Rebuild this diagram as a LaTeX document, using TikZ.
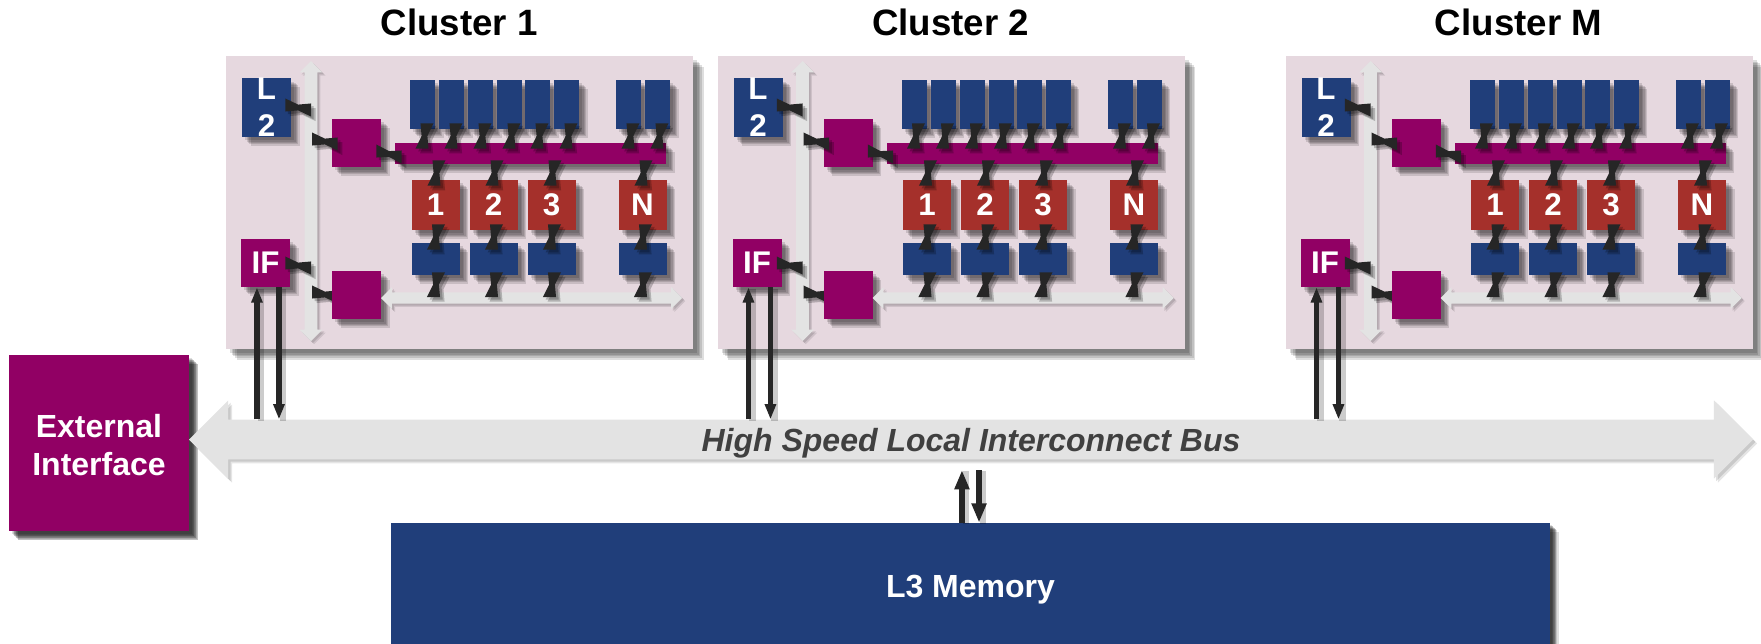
\documentclass[tikz,border=0pt]{standalone}
\usepackage{fontspec}
\setmainfont{Liberation Sans}
\usetikzlibrary{arrows.meta,shapes.arrows,shadows,backgrounds,calc}

\definecolor{panelpink}{RGB}{230,216,223}
\definecolor{plum}{RGB}{145,0,100}
\definecolor{navy}{RGB}{32,62,122}
\definecolor{brick}{RGB}{165,48,43}
\definecolor{busgrey}{RGB}{227,227,227}
\definecolor{linkdark}{RGB}{38,38,38}
\definecolor{bustext}{RGB}{64,64,64}

\tikzset{
  softshade/.style={
    general shadow={shadow xshift=#1,shadow yshift=-#1,fill=black,opacity=.13},
    general shadow={shadow xshift=.85*#1,shadow yshift=-.85*#1,fill=black,opacity=.13},
    general shadow={shadow xshift=.7*#1,shadow yshift=-.7*#1,fill=black,opacity=.13},
    general shadow={shadow xshift=.55*#1,shadow yshift=-.55*#1,fill=black,opacity=.13},
    general shadow={shadow xshift=.4*#1,shadow yshift=-.4*#1,fill=black,opacity=.13}},
  busshade/.style={
    general shadow={shadow xshift=#1,shadow yshift=-#1,fill=black,opacity=.1},
    general shadow={shadow xshift=.6*#1,shadow yshift=-.6*#1,fill=black,opacity=.12}},
  block/.style={rectangle,inner sep=0pt,text=white,align=center,softshade=6.5pt,
    font=\bfseries\fontsize{23.5}{28}\selectfont},
  bigtext/.style={font=\bfseries\fontsize{24}{28.5}\selectfont},
  l2box/.style={block,fill=navy,minimum width=36.75pt,minimum height=36.75pt},
  ifbox/.style={block,fill=plum,minimum width=36.75pt,minimum height=36pt},
  router/.style={block,fill=plum,minimum width=36.75pt,minimum height=36pt},
  membar/.style={block,fill=plum,minimum width=203.25pt,minimum height=15.75pt},
  memtall/.style={block,fill=navy,minimum width=18.75pt,minimum height=36.75pt},
  memlow/.style={block,fill=navy,minimum width=36pt,minimum height=24pt},
  core/.style={block,fill=brick,minimum width=36pt,minimum height=37.5pt},
  panel/.style={rectangle,inner sep=0pt,fill=panelpink,softshade=8pt,minimum width=350.25pt,minimum height=219.75pt},
  thinbus/.style={double arrow,inner sep=0pt,fill=busgrey,busshade=2.4pt,double arrow head extend=3.9pt,
    double arrow tip angle=90},
  bigbus/.style={double arrow,inner sep=0pt,fill=busgrey,busshade=3pt,double arrow head extend=14.6pt,
    double arrow tip angle=90,minimum height=1173pt,text height=23.6pt,text depth=5.65pt,text=bustext,
    font=\bfseries\itshape\fontsize{24}{28}\selectfont},
  title/.style={inner sep=0pt,font=\bfseries\fontsize{27.5}{32}\selectfont},
  tie/.style={fill=linkdark},
  tieshade/.style={fill=black,opacity=.22,transform canvas={xshift=#1,yshift=-#1}},
  buslink/.style={line width=4pt,draw=linkdark,-{Triangle[width=8pt,length=11.5pt]}},
  linkshade/.style={line width=5pt,draw=black,opacity=.2,transform canvas={xshift=3pt,yshift=-1pt}},
  memlink/.style={line width=4.5pt,draw=linkdark,-{Triangle[width=10.5pt,length=14.5pt]}},
  tiepath/.style={insert path={
    ([#1=-4.9pt]tiea) -- ([#1=4.9pt]tiea) -- ($(tiea)!.9!(tieb)$) -- cycle
    ([#1=4.9pt]tieb) -- ([#1=-4.9pt]tieb) -- ($(tieb)!.9!(tiea)$) -- cycle}}
}

% one small connector with its shade, #1 is the side its ends spread to
\newcommand{\tielink}[3]{%
  \coordinate (tiea) at #2;
  \coordinate (tieb) at #3;
  \fill[tieshade=2pt,tiepath=#1];
  \fill[tieshade=3.4pt,tiepath=#1];
  \fill[tie,tiepath=#1];}

\begin{document}
\begin{tikzpicture}[x=0.75pt,y=0.75pt,yscale=-1,xscale=1]
\useasboundingbox (0,0) rectangle (1761,643);

%Shape: External box
\node[block,bigtext,fill=plum,minimum width=135pt,minimum height=132pt,softshade=7pt] (ext) at (99,443) {\rule{0pt}{21pt}External\\Interface};
%Shape: Bus
\node[bigbus] (bus) at (971,439.5) {High Speed Local Interconnect Bus};
%Shape: L3 box
\node[block,bigtext,fill=navy,minimum width=869.25pt,minimum height=99.75pt,softshade=4.5pt] (l3) at (970.5,589.5) {L3 Memory};
\coordinate (l3gap) at (970.5,470);
%Straight Lines
\draw[linkshade] ([xshift=-6.4pt]l3.north) -- ([xshift=-6.4pt]l3.north |- l3gap);
\draw[linkshade] ([xshift=6.4pt]l3.north |- l3gap) -- ([xshift=6.4pt]l3.north);
\draw[memlink] ([xshift=-6.4pt]l3.north) -- ([xshift=-6.4pt]l3.north |- l3gap);
\draw[memlink] ([xshift=6.4pt]l3.north |- l3gap) -- ([xshift=6.4pt]l3.north);

\foreach \cx/\cname/\cid in {0/1/a,491.5/2/b,1059.5/M/c}{
\begin{scope}[shift={(\cx,0)}]
% Text Node
\node[title] (title\cid) at (459,22) {Cluster \cname};

\begin{scope}[on background layer]
%Shape: Panel
\node[panel] (panel\cid) at (459.5,202.5) {};
%Shape: Bus inside the panel
\node[thinbus,inner xsep=4.5pt,minimum height=210pt,shape border rotate=90] (vbus\cid) at (311,201) {};
\end{scope}

%Shape: Boxes
\node[l2box] (ltwo\cid) at (266.5,107.5) {L\\2};
\node[ifbox] (if\cid) at (265.5,263) {IF};
\node[router] (rta\cid) at (356.5,143) {};
\node[router] (rtb\cid) at (356.5,295) {};
\node[thinbus,inner ysep=4.1pt,minimum height=225.75pt] (hbus\cid) at (531.5,298) {};
\foreach \mx [count=\mi] in {422.5,451.5,480.5,509.5,537.5,566.5,628.5,657.5}
  \node[memtall] (top\mi\cid) at (\mx,104.5) {};
\node[membar] (bar\cid) at (530.5,153.5) {};
\foreach \mx/\lab [count=\mi] in {435.5/1,493.5/2,551.5/3,642.5/N}{
  \node[core] (core\mi\cid) at (\mx,205) {\lab};
  \node[memlow] (low\mi\cid) at (\mx,259) {};
}

%Straight Lines
\foreach \mi in {1,...,8}{
  \tielink{xshift}{($(top\mi\cid.south)+(4.5,-6)$)}{($(top\mi\cid.south |- bar\cid.north)+(-.5,6)$)}
}
\foreach \mi in {1,...,4}{
  \tielink{xshift}{($(core\mi\cid.north |- bar\cid.south)+(3.5,-4)$)}{($(core\mi\cid.north)+(-1.5,6)$)}
  \tielink{xshift}{($(core\mi\cid.south)+(3,-6)$)}{($(low\mi\cid.north)+(-2,7)$)}
  \tielink{xshift}{($(low\mi\cid.south)+(3,-3)$)}{($(low\mi\cid.south |- hbus\cid.center)+(-2,-1)$)}
}
\tielink{yshift}{($(ltwo\cid.east)+(-6,-2.5)$)}{($(ltwo\cid.east -| vbus\cid.center)+(0,2.5)$)}
\tielink{yshift}{($(rta\cid.west -| vbus\cid.center)+(1,-4)$)}{($(rta\cid.west)+(6,1)$)}
\tielink{yshift}{($(rta\cid.east)+(-5,8)$)}{($(bar\cid.west)+(7,3.5)$)}
\tielink{yshift}{($(if\cid.east)+(-5,0)$)}{($(if\cid.east -| vbus\cid.center)+(0,5)$)}
\begin{scope}[on background layer]
\tielink{yshift}{($(rtb\cid.west -| vbus\cid.center)+(1,-3)$)}{($(rtb\cid.west)+(6,2)$)}
\end{scope}

%Straight Lines to the bus
\draw[linkshade] ([xshift=-6.4pt]if\cid.south) -- ([xshift=-6.4pt]if\cid.south |- bus.north);
\draw[linkshade] ([xshift=10.1pt]if\cid.south) -- ([xshift=10.1pt]if\cid.south |- bus.north);
\draw[buslink] ([xshift=-6.4pt]if\cid.south |- bus.north) -- ([xshift=-6.4pt]if\cid.south);
\draw[buslink] ([xshift=10.1pt]if\cid.south) -- ([xshift=10.1pt]if\cid.south |- bus.north);
\end{scope}
}

\end{tikzpicture}
\end{document}
